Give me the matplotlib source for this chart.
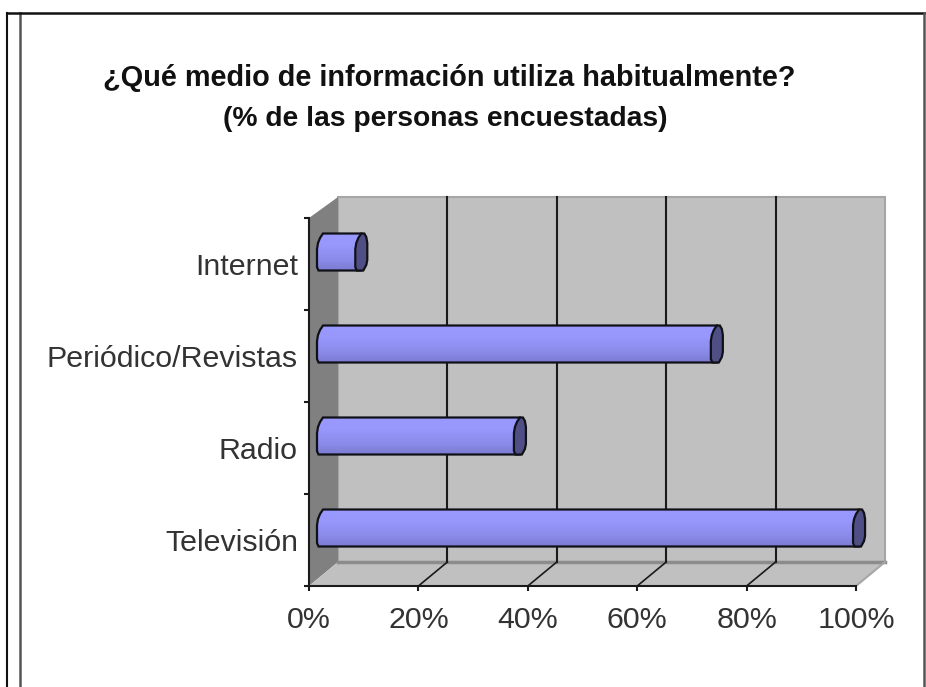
import numpy as np
import matplotlib
matplotlib.use('Agg')
import matplotlib.pyplot as plt
from matplotlib.patches import Polygon
from matplotlib.lines import Line2D
from matplotlib.colors import LinearSegmentedColormap
from matplotlib.transforms import Affine2D

plt.rcParams['font.family'] = ['Liberation Sans', 'DejaVu Sans']

# Datos
medios = ['Televisión', 'Radio', 'Periódico/Revistas', 'Internet']
valores = [98, 36, 72, 7]
marcas_x = [0, 20, 40, 60, 80, 100]
titulo_1 = '¿Qué medio de información utiliza habitualmente?'
titulo_2 = '(% de las personas encuestadas)'

W, H = 926, 687
fig = plt.figure(figsize=(W / 100, H / 100), dpi=100)
fig.patch.set_facecolor('white')

# plano frontal del grafico, en pixeles de la imagen
x0, x1, ytop, ybot = 309, 856, 218, 586
ax = fig.add_axes([x0 / W, 1 - ybot / H, (x1 - x0) / W, (ybot - ytop) / H])
ax.set_xlim(0, 100)
ax.set_ylim(-0.5, 3.5)
ax.patch.set_visible(False)
px_x = (x1 - x0) / 100   # px por %
px_y = (ybot - ytop) / 4  # px por categoria

# profundidad 3D, en pixeles
prof_x, prof_arr, prof_abj = 29, 21, 24
ta = ax.transAxes
ancho, alto = x1 - x0, ybot - ytop


def frac(dx, dy):
    return dx / ancho, dy / alto


# paredes y suelo
pared = Polygon([frac(prof_x, prof_abj), (1 + prof_x / ancho, prof_abj / alto),
                 (1 + prof_x / ancho, 1 + prof_arr / alto), (prof_x / ancho, 1 + prof_arr / alto)],
                transform=ta, fc='#c0c0c0', ec='#a6a6a6', lw=1.5, clip_on=False, zorder=0.5)
lateral = Polygon([(0, 0), frac(prof_x, prof_abj), (prof_x / ancho, 1 + prof_arr / alto), (0, 1)],
                  transform=ta, fc='#808080', ec='none', clip_on=False, zorder=0.6)
suelo = Polygon([(0, 0), (1, 0), (1 + prof_x / ancho, prof_abj / alto), frac(prof_x, prof_abj)],
                transform=ta, fc='#c0c0c0', ec='none', clip_on=False, zorder=0.6)
for p in (pared, lateral, suelo):
    ax.add_patch(p)
ax.add_line(Line2D([prof_x / ancho, 1 + prof_x / ancho], [prof_abj / alto, prof_abj / alto],
                   transform=ta, color='#8c8c8c', lw=2.5, clip_on=False, zorder=0.7))
ax.add_line(Line2D([1, 1 + prof_x / ancho], [0, prof_abj / alto], transform=ta,
                   color='#a6a6a6', lw=1.5, clip_on=False, zorder=0.7))

# rejilla: pared del fondo y suelo
for m in marcas_x[1:-1]:
    xf = m / 100
    ax.add_line(Line2D([xf + prof_x / ancho] * 2, [prof_abj / alto, 1 + prof_arr / alto],
                       transform=ta, color='#1a1a1a', lw=1.5, clip_on=False, zorder=1))
    ax.add_line(Line2D([xf, xf + prof_x / ancho], [0, prof_abj / alto],
                       transform=ta, color='#1a1a1a', lw=1.2, clip_on=False, zorder=1))

# cilindros
cmap = LinearSegmentedColormap.from_list('barra', ['#9999ff', '#9797fc', '#8c8cec', '#7a7ad0'])
seccion_izq = [(-4.5, -18.5), (-6, -15), (-6, 3), (-5, 9), (-3, 14), (0, 18.5)]
seccion_der = [(3, 18.5), (5, 15), (6, 9), (6, -8), (5, -13), (2, -18.5)]
desplaz = Affine2D().translate(14, 12)
tr = ax.transData + desplaz


def en_datos(cx, cy, puntos):
    return [(cx + a / px_x, cy + b / px_y) for a, b in puntos]


for i, v in enumerate(valores):
    cuerpo = en_datos(0, i, seccion_izq) + en_datos(v, i, [(0, 18.5), (0, -18.5)])
    pat = Polygon(cuerpo, closed=True, transform=tr, fc='none', ec='none', clip_on=False, zorder=2)
    ax.add_patch(pat)
    im = ax.imshow(np.linspace(0, 1, 40).reshape(-1, 1), cmap=cmap, aspect='auto', origin='upper',
                   extent=(-2, v + 3, i - 20 / px_y, i + 20 / px_y), transform=tr, zorder=2.1)
    im.set_clip_path(pat)
    borde = Polygon(cuerpo, closed=True, transform=tr, fc='none', ec='#101018', lw=1.6,
                    clip_on=False, zorder=2.2)
    ax.add_patch(borde)
    tapa = en_datos(v, i, seccion_izq + seccion_der)
    ax.add_patch(Polygon(tapa, closed=True, transform=tr, fc='#4f4f85', ec='#101018', lw=1.6,
                         clip_on=False, zorder=2.3))

ax.set_xlim(0, 100)
ax.set_ylim(-0.5, 3.5)

# ejes
for lado in ('top', 'right'):
    ax.spines[lado].set_visible(False)
for lado in ('left', 'bottom'):
    ax.spines[lado].set_linewidth(1.5)
    ax.spines[lado].set_color('#1a1a1a')
    ax.spines[lado].set_zorder(1.5)
ax.set_xticks(marcas_x)
ax.set_xticklabels(['%d%%' % m for m in marcas_x], fontsize=21.9, color='#333333')
ax.set_yticks(np.arange(-0.5, 4, 1))
ax.set_yticklabels([])
ax.set_yticks(range(len(medios)), medios, minor=True, fontsize=21.9, color='#333333')
ax.tick_params(axis='x', length=3.5, width=1.5, pad=11, color='#1a1a1a')
ax.tick_params(axis='y', which='major', length=3.5, width=1.5, color='#1a1a1a')
ax.tick_params(axis='y', which='minor', length=0, pad=8)

# titulo
fig.text(449.5 / W, 1 - 78 / H, titulo_1, ha='center', va='center', fontsize=20.8, fontweight='bold',
         color='#111111')
fig.text(445 / W, 1 - 119 / H, titulo_2, ha='center', va='center', fontsize=20.3, fontweight='bold',
         color='#111111')

# marco de la imagen
fig.add_artist(Line2D([6.5 / W, 6.5 / W], [0, 1 - 13 / H], color='#111111', lw=1.5))
fig.add_artist(Line2D([19.5 / W, 19.5 / W], [0, 1 - 13 / H], color='#555555', lw=1.8))
fig.add_artist(Line2D([6.5 / W, 924 / W], [1 - 13 / H, 1 - 13 / H], color='#111111', lw=1.8))
fig.add_artist(Line2D([923.5 / W, 923.5 / W], [0, 1 - 13 / H], color='#555555', lw=1.8))

fig.savefig('out.png', dpi=100)
